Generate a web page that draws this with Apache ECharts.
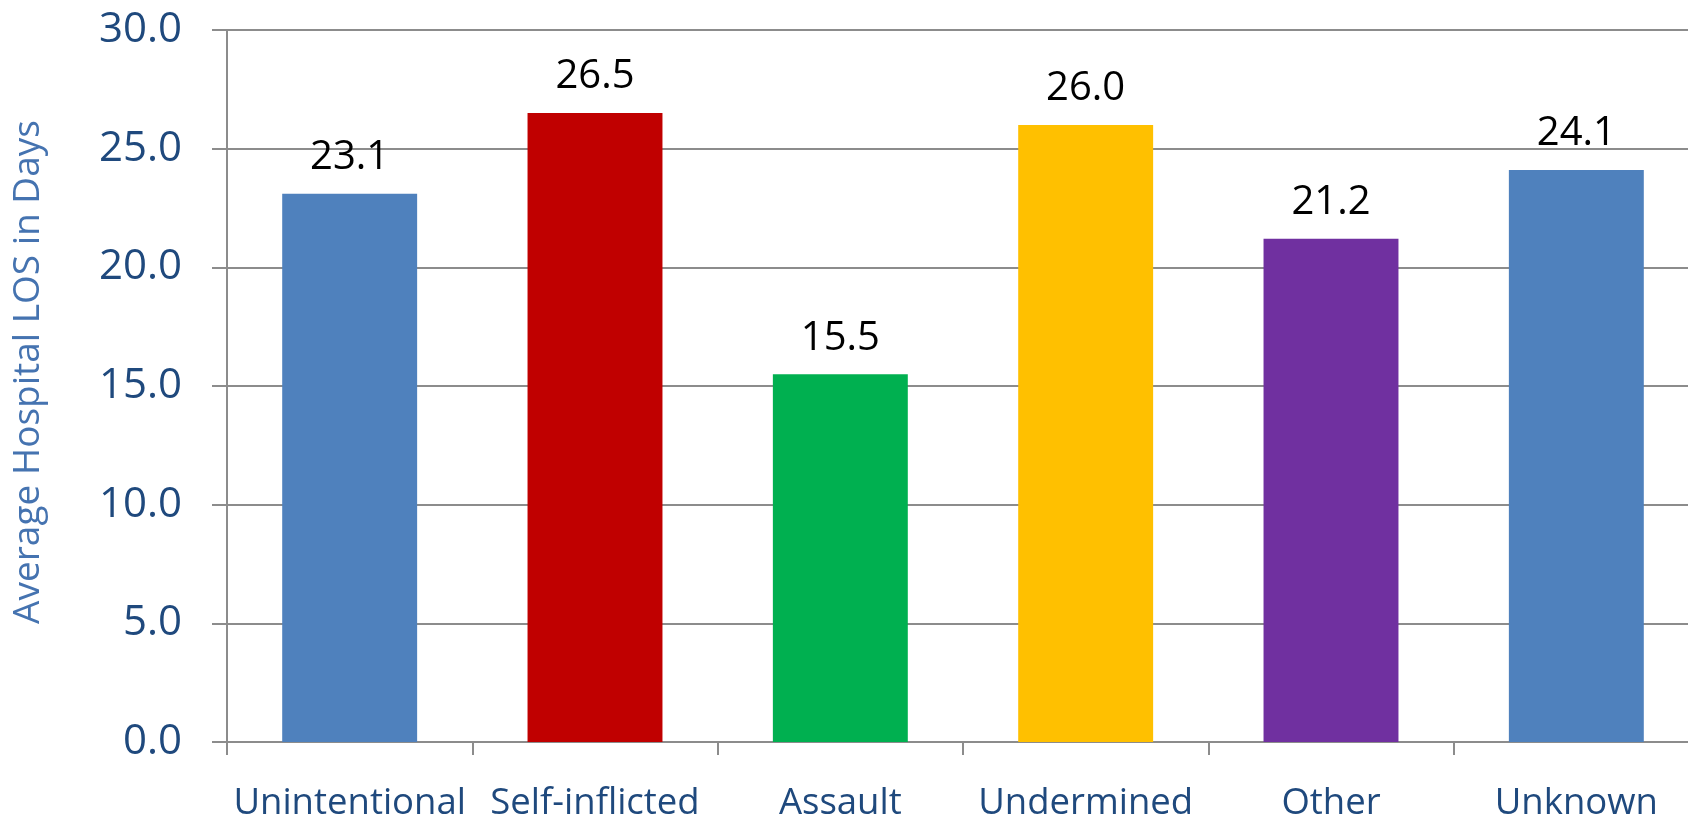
<!DOCTYPE html>
<html>
<head>
<meta charset="utf-8">
<script src="https://cdn.jsdelivr.net/npm/echarts@6/dist/echarts.min.js"></script>
<style>
html,body{margin:0;padding:0;background:#fff;}
#chart{width:1688px;height:814px;}
</style>
</head>
<body>
<div id="chart"></div>
<script>
const categories = ["Unintentional", "Self-inflicted", "Assault", "Undermined", "Other", "Unknown"];
const values = [23.1, 26.5, 15.5, 26.0, 21.2, 24.1];
const barColors = ["#4F81BD", "#C00000", "#00B050", "#FFC000", "#7030A0", "#4F81BD"];
const yTicks = { min: 0, max: 30, interval: 5 };
const yTitle = "Average Hospital LOS in Days";

const chart = echarts.init(document.getElementById('chart'));
const FONT = "'Open Sans', 'Noto Sans', sans-serif";
chart.setOption({
  animation: false,
  backgroundColor: '#ffffff',
  grid: { left: 227, top: 30, width: 1472, height: 712, containLabel: false, outerBoundsMode: 'none' },
  xAxis: {
    type: 'category',
    data: categories,
    boundaryGap: true,
    axisLine: { show: true, lineStyle: { color: '#8c8c8c', width: 2 } },
    axisTick: { show: true, length: 13, alignWithLabel: false, lineStyle: { color: '#8c8c8c', width: 2 } },
    axisLabel: { color: '#1F497D', fontSize: 36.5, fontFamily: FONT, margin: 43, interval: 0 }
  },
  yAxis: {
    type: 'value',
    min: yTicks.min, max: yTicks.max, interval: yTicks.interval,
    name: yTitle,
    nameLocation: 'middle',
    nameGap: 180,
    nameTextStyle: { color: '#4573B0', fontSize: 37, fontFamily: FONT, padding: [0, 0, 0, 28] },
    axisLine: { show: true, lineStyle: { color: '#8c8c8c', width: 2 } },
    axisTick: { show: true, length: 15, lineStyle: { color: '#8c8c8c', width: 2 } },
    splitLine: { show: true, lineStyle: { color: '#8c8c8c', width: 2 } },
    axisLabel: {
      color: '#1F497D', fontSize: 42, fontFamily: FONT, margin: 45,
      formatter: v => v.toFixed(1)
    }
  },
  series: [{
    type: 'bar',
    data: values.map((v, i) => ({ value: v, itemStyle: { color: barColors[i] } })),
    barWidth: '55%',
    label: {
      show: true, position: 'top', distance: 16,
      color: '#000000', fontSize: 40, fontFamily: FONT,
      formatter: p => p.value.toFixed(1)
    }
  }]
});
</script>
</body>
</html>
